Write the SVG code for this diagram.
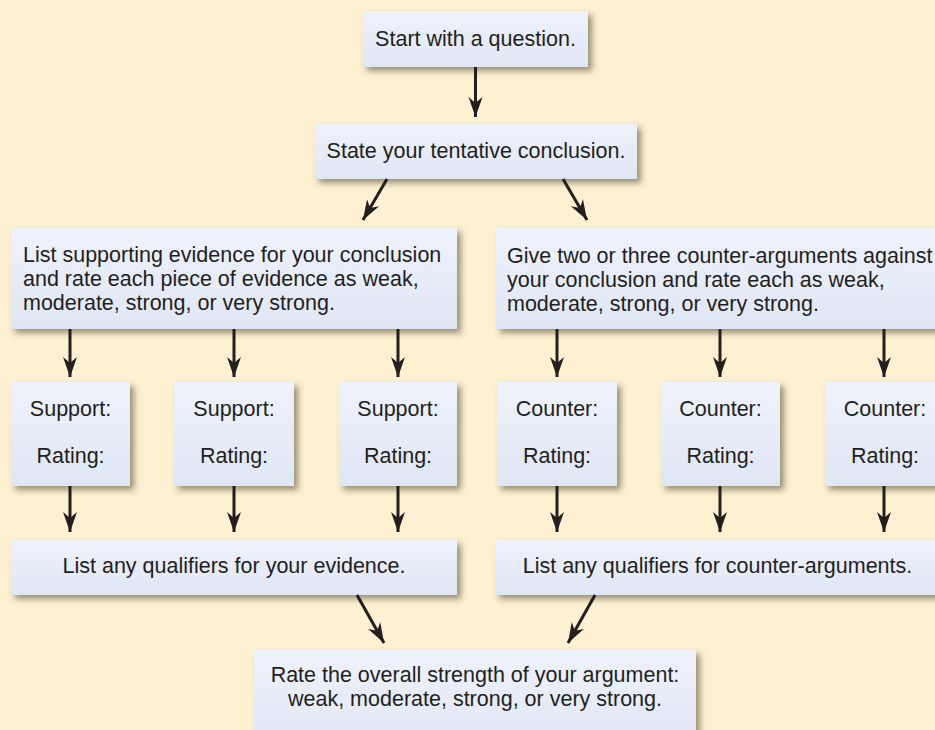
<svg xmlns="http://www.w3.org/2000/svg" width="935" height="730" viewBox="0 0 935 730">
  <defs>
    <linearGradient id="boxFill" x1="0" y1="0" x2="0" y2="1">
      <stop offset="0" stop-color="#EEF2FB"/>
      <stop offset="1" stop-color="#DFE7F5"/>
    </linearGradient>
    <filter id="shadow" x="-10%" y="-20%" width="125%" height="150%">
      <feDropShadow dx="4" dy="4" stdDeviation="3" flood-color="#4a3f2a" flood-opacity="0.55"/>
    </filter>
    <marker id="head" viewBox="0 0 20 16" refX="20" refY="8" markerWidth="20" markerHeight="16" markerUnits="userSpaceOnUse" orient="auto">
      <path d="M0,1 L20,8 L0,15 L6,8 Z" fill="#231F20"/>
    </marker>
  </defs>
  <style>
    .box { fill: url(#boxFill); filter: url(#shadow); }
    .t { font-family: "Liberation Sans", Arial, Helvetica, sans-serif; font-size: 21.5px; fill: #231F20; }
    .c { text-anchor: middle; }
    .edge { stroke: #231F20; stroke-width: 3; fill: none; marker-end: url(#head); }
  </style>

  <rect width="935" height="730" fill="#FDF1D1"/>

  <g id="start">
    <rect class="box" x="363" y="11" width="225" height="56"/>
    <text class="t c" x="475.5" y="46">Start with a question.</text>
  </g>

  <g id="conclusion">
    <rect class="box" x="315" y="124" width="322" height="55"/>
    <text class="t c" x="476" y="158">State your tentative conclusion.</text>
  </g>

  <g id="support-list">
    <rect class="box" x="11" y="228" width="446" height="101"/>
    <text class="t" x="23" y="262">List supporting evidence for your conclusion</text>
    <text class="t" x="23" y="286">and rate each piece of evidence as weak,</text>
    <text class="t" x="23" y="310">moderate, strong, or very strong.</text>
  </g>

  <g id="counter-list">
    <rect class="box" x="496" y="228" width="446" height="101"/>
    <text class="t" x="507" y="263">Give two or three counter-arguments against</text>
    <text class="t" x="507" y="287">your conclusion and rate each as weak,</text>
    <text class="t" x="507" y="311">moderate, strong, or very strong.</text>
  </g>

  <g id="support-1">
    <rect class="box" x="11" y="382" width="119" height="104"/>
    <text class="t c" x="70.5" y="416">Support:</text>
    <text class="t c" x="70.5" y="463">Rating:</text>
  </g>
  <g id="support-2">
    <rect class="box" x="174" y="382" width="120" height="104"/>
    <text class="t c" x="234" y="416">Support:</text>
    <text class="t c" x="234" y="463">Rating:</text>
  </g>
  <g id="support-3">
    <rect class="box" x="339" y="382" width="118" height="104"/>
    <text class="t c" x="398" y="416">Support:</text>
    <text class="t c" x="398" y="463">Rating:</text>
  </g>

  <g id="counter-1">
    <rect class="box" x="497" y="382" width="120" height="104"/>
    <text class="t c" x="557" y="416">Counter:</text>
    <text class="t c" x="557" y="463">Rating:</text>
  </g>
  <g id="counter-2">
    <rect class="box" x="661" y="382" width="119" height="104"/>
    <text class="t c" x="720.5" y="416">Counter:</text>
    <text class="t c" x="720.5" y="463">Rating:</text>
  </g>
  <g id="counter-3">
    <rect class="box" x="825" y="382" width="120" height="104"/>
    <text class="t c" x="885" y="416">Counter:</text>
    <text class="t c" x="885" y="463">Rating:</text>
  </g>

  <g id="support-qualifiers">
    <rect class="box" x="11" y="540" width="446" height="55"/>
    <text class="t c" x="234" y="573">List any qualifiers for your evidence.</text>
  </g>

  <g id="counter-qualifiers">
    <rect class="box" x="495" y="540" width="445" height="55"/>
    <text class="t c" x="717.5" y="573">List any qualifiers for counter-arguments.</text>
  </g>

  <g id="overall">
    <rect class="box" x="254" y="650" width="442" height="100"/>
    <text class="t c" x="475" y="682">Rate the overall strength of your argument:</text>
    <text class="t c" x="475" y="706">weak, moderate, strong, or very strong.</text>
  </g>

  <g id="connectors">
    <line class="edge" x1="475.5" y1="67" x2="475.5" y2="117"/>
    <line class="edge" x1="387" y1="179" x2="363" y2="220"/>
    <line class="edge" x1="563" y1="179" x2="587" y2="220"/>

    <line class="edge" x1="70" y1="329" x2="70" y2="377"/>
    <line class="edge" x1="234" y1="329" x2="234" y2="377"/>
    <line class="edge" x1="398" y1="329" x2="398" y2="377"/>
    <line class="edge" x1="557" y1="329" x2="557" y2="377"/>
    <line class="edge" x1="720" y1="329" x2="720" y2="377"/>
    <line class="edge" x1="884" y1="329" x2="884" y2="377"/>

    <line class="edge" x1="70" y1="486" x2="70" y2="532"/>
    <line class="edge" x1="234" y1="486" x2="234" y2="532"/>
    <line class="edge" x1="398" y1="486" x2="398" y2="532"/>
    <line class="edge" x1="557" y1="486" x2="557" y2="532"/>
    <line class="edge" x1="720" y1="486" x2="720" y2="532"/>
    <line class="edge" x1="884" y1="486" x2="884" y2="532"/>

    <line class="edge" x1="357" y1="595" x2="384" y2="643"/>
    <line class="edge" x1="595" y1="595" x2="568" y2="643"/>
  </g>
</svg>
